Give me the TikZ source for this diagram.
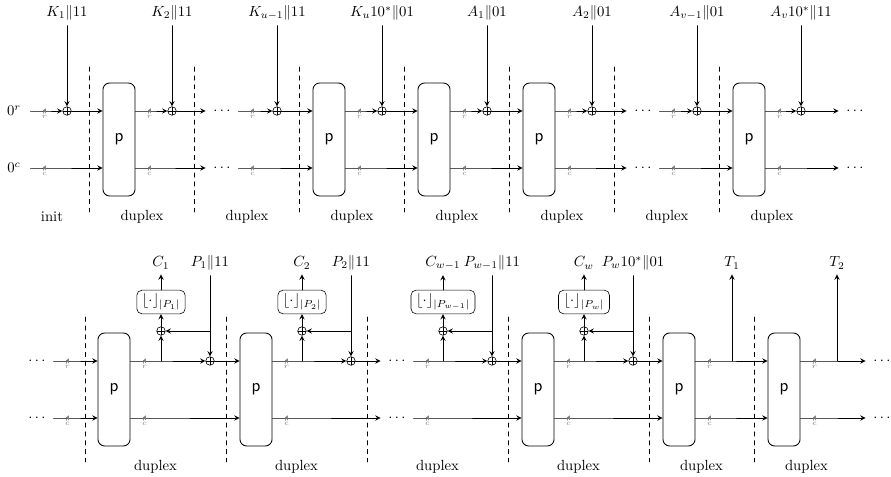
\documentclass[tikz,border=0pt]{standalone}
\begin{document}
\begin{tikzpicture}[x=0.0239cm, y=-0.0239cm, line cap=round, line join=round, >=stealth, semithick]
	\tikzset{permbox/.style={draw, rounded corners=4.5pt, minimum width=21.8pt, minimum height=76.8pt, font=\sffamily\large},
		slotbox/.style={minimum width=21.8pt, minimum height=76.8pt},
		xorop/.style={circle, draw, thin, inner sep=0pt, minimum size=5.8pt, path picture={\draw[thin] (path picture bounding box.north) -- (path picture bounding box.south) (path picture bounding box.west) -- (path picture bounding box.east);}},
		cutbox/.style={draw, thin, rounded corners=3.5pt, inner xsep=3.5pt, inner ysep=2.5pt},
		phasesep/.style={thin, dashed},
		bits/.style={inner sep=0pt, minimum width=2pt, minimum height=3.6pt, path picture={\draw[gray, thin] (path picture bounding box.south west) -- (path picture bounding box.north east);}, label={[gray, font=\tiny, inner sep=0.8pt]below:$#1$}}}
	\useasboundingbox (0,0) rectangle (891,477);
	% top row
	\coordinate (trate) at (0,111);
	\coordinate (tcap) at (0,168);
	\node[slotbox] (t0) at (14,139.5) {};
	\node (zr) at (14,111) {$0^r$};
	\node (zc) at (14,168) {$0^c$};
	\foreach \n/\x in {1/119, 3/329, 4/434, 5/539, 7/749}
		\node[permbox] (t\n) at (\x,139.5) {p};
	\foreach \n/\x in {2/222, 6/643, 8/855} {
		\node[slotbox] (t\n) at (\x,139.5) {};
		\node (tr\n) at (\x,111) {$\cdots$};
		\node (tc\n) at (\x,168) {$\cdots$};
	}
	\foreach \a/\b/\x/\lbl in {0/1/67/{K_1\|11}, 1/2/172/{K_2\|11}, 2/3/277/{K_{u-1}\|11}, 3/4/382/{K_u10^*\|01}, 4/5/487/{A_1\|01}, 5/6/592/{A_2\|01}, 6/7/697/{A_{v-1}\|01}, 7/8/801/{A_v10^*\|11}} {
		\node[xorop] (tx\b) at (\x,111) {};
		\node (ti\b) at (\x,13) {$\lbl$};
		\draw[->] (ti\b) -- (tx\b);
		\draw[->] (t\a.east |- trate) -- +(14,0) node[bits=r] {} -- (tx\b);
		\draw[->] (tx\b) -- (t\b.west |- trate);
		\draw[->] (t\a.east |- tcap) -- +(14,0) node[bits=c] {} -- (t\b.west |- tcap);
	}
	\foreach \x in {89,194,...,719}
		\draw[phasesep] (\x,67) -- (\x,212);
	\node (tl0) at (52,217) {init};
	\foreach \x [count=\n] in {142,247,...,772}
		\node (tl\n) at (\x,217) {duplex};
	% bottom row
	\coordinate (brate) at (0,361);
	\coordinate (bcap) at (0,418);
	\foreach \n/\x in {1/114, 2/256, 4/538, 5/679, 6/784}
		\node[permbox] (b\n) at (\x,389.5) {p};
	\foreach \n/\x in {0/37, 3/397, 7/882} {
		\node[slotbox] (b\n) at (\x,389.5) {};
		\node (br\n) at (\x,361) {$\cdots$};
		\node (bc\n) at (\x,418) {$\cdots$};
	}
	\draw[->] (b0.east |- brate) -- +(14,0) node[bits=r] {} -- (b1.west |- brate);
	\foreach \a/\b/\u/\v/\cn/\pn/\wn in {1/2/161/210/{C_1}/{P_1\|11}/{|P_1|}, 2/3/302/351/{C_2}/{P_2\|11}/{|P_2|}, 3/4/443/492/{C_{w-1}}/{P_{w-1}\|11}/{|P_{w-1}|}, 4/5/584/633/{C_w}/{P_w10^*\|01}/{|P_w|}} {
		\node[xorop] (by\b) at (\v,361) {};
		\node[xorop] (bz\b) at (\u,331) {};
		\node[cutbox] (bf\b) at (\u,302) {$\lfloor\cdot\rfloor_{\wn}$};
		\node (bo\b) at (\u,263) {$\cn$};
		\node (bi\b) at (\v,263) {$\pn$};
		\coordinate (bs\b) at (\u,361);
		\coordinate (bm\b) at (\v,331);
		\draw[->] (b\a.east |- brate) -- +(14,0) node[bits=r] {} -- (by\b);
		\draw[->] (by\b) -- (b\b.west |- brate);
		\draw[->] (bs\b) -- (bz\b);
		\draw[->] (bz\b) -- (bf\b);
		\draw[->] (bf\b) -- (bo\b);
		\draw[->] (bi\b) -- (by\b);
		\draw[->] (bm\b) -- (bz\b);
	}
	\foreach \a/\b/\u/\tg in {5/6/732/T_1, 6/7/837/T_2} {
		\node (bo\b) at (\u,263) {$\tg$};
		\coordinate (bs\b) at (\u,361);
		\draw[->] (b\a.east |- brate) -- +(14,0) node[bits=r] {} -- (b\b.west |- brate);
		\draw[->] (bs\b) -- (bo\b);
	}
	\foreach \a/\b in {0/1,1/2,2/3,3/4,4/5,5/6,6/7}
		\draw[->] (b\a.east |- bcap) -- +(14,0) node[bits=c] {} -- (b\b.west |- bcap);
	\foreach \x in {85,226,367,508,649,754}
		\draw[phasesep] (\x,317) -- (\x,462);
	\foreach \x [count=\n] in {155.5,296.5,437.5,578.5,701.5,806.5}
		\node (bl\n) at (\x,467) {duplex};
\end{tikzpicture}
\end{document}
